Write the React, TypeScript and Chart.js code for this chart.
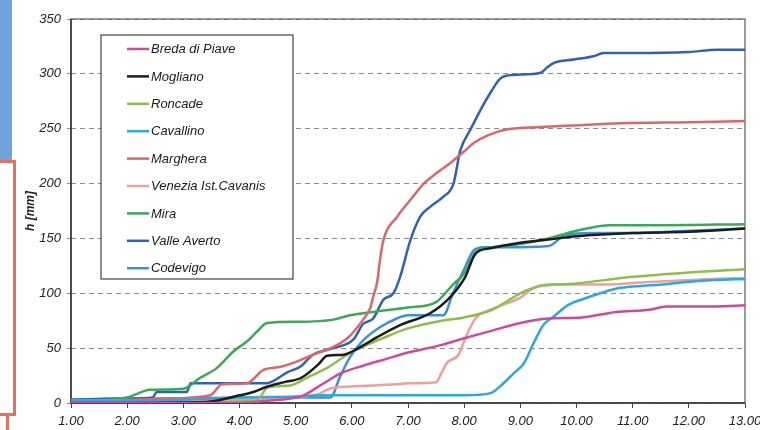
import React, { useEffect, useRef } from "react";
import { Chart, registerables } from "chart.js";

Chart.register(...registerables);

// ---------- data ----------
const seriesNames = [
  "Breda di Piave",
  "Mogliano",
  "Roncade",
  "Cavallino",
  "Marghera",
  "Venezia Ist.Cavanis",
  "Mira",
  "Valle Averto",
  "Codevigo",
];

const seriesColors = [
  "#d2479f",
  "#1c1c1c",
  "#8fbf4a",
  "#2aa9e2",
  "#e0646a",
  "#eea09a",
  "#3aaa55",
  "#2d62b6",
  "#3b90dc",
];

const bredaT = [1, 4.0, 4.5, 4.9, 5.14, 5.5, 5.8, 6.2, 6.6, 7.0, 7.6, 8.0, 8.5, 9.0, 9.5, 10.1, 10.7, 11.3, 11.6, 12.5, 13];
const bredaH = [0, 0, 2, 4, 7, 18, 27, 34, 40, 46, 53, 59, 66, 73, 77, 78, 83, 85, 88, 88, 89];

const moglianoT = [1, 3.4, 4.0, 4.25, 4.5, 4.8, 5.1, 5.4, 5.56, 5.85, 6.15, 6.45, 6.86, 7.4, 7.76, 8.02, 8.2, 8.47, 9.0, 9.5, 10.0, 11.0, 12.0, 13];
const moglianoH = [0, 1, 7, 10, 15, 19, 23, 35, 43, 44, 51, 60, 71, 82, 97, 115, 136, 141, 146, 149, 152, 155, 156, 159];

const roncadeT = [1, 4.3, 4.5, 4.9, 5.2, 5.56, 5.92, 6.27, 6.5, 7.0, 7.6, 8.0, 8.5, 9.0, 9.3, 10.0, 11.0, 12.0, 13];
const roncadeH = [0, 2, 14, 16, 23, 32, 44, 53, 58, 68, 75, 78, 85, 100, 106, 109, 115, 119, 122];

const cavallinoT = [1, 2.0, 3.0, 4.0, 5.0, 5.5, 6.0, 7.0, 8.0, 8.47, 8.7, 8.88, 9.06, 9.24, 9.41, 9.6, 9.84, 10.13, 10.48, 10.78, 11.26, 12.45, 13];
const cavallinoH = [2, 2, 3, 5, 6, 7, 7, 7, 7, 9, 18, 27, 36, 55, 71, 79, 89, 95, 101, 105, 107, 112, 113];

const margheraT = [1, 2.7, 3.48, 3.69, 4.13, 4.42, 4.73, 5.03, 5.31, 5.62, 5.92, 6.2, 6.33, 6.38, 6.45, 6.5, 6.56, 6.81, 7.04, 7.28, 7.52, 7.76, 7.99, 8.17, 8.42, 8.77, 9.36, 9.95, 10.78, 12.0, 13];
const margheraH = [0, 4, 7, 17, 18, 30, 33, 38, 44, 50, 59, 76, 87, 97, 110, 130, 148, 170, 185, 200, 210, 219, 229, 237, 244, 249.5, 251.5, 253, 255, 256, 257];

const veneziaT = [1, 3.0, 4.5, 5.4, 5.6, 5.97, 6.8, 7.0, 7.5, 7.6, 7.7, 7.9, 8.02, 8.2, 8.47, 8.77, 9.0, 9.24, 9.48, 10.07, 10.55, 11.2, 12.4, 13];
const veneziaH = [2, 3, 4, 8, 13, 15, 17, 18, 19, 28, 37, 44, 59, 77, 85, 91, 96, 105, 108, 108, 108, 110, 113, 114];

const miraT = [1, 1.5, 2.0, 2.41, 3.0, 3.3, 3.6, 3.89, 4.13, 4.31, 4.49, 5.08, 5.67, 5.97, 6.38, 7.0, 7.5, 7.8, 8.0, 8.2, 8.5, 9.0, 9.5, 10.0, 10.6, 11.5, 13];
const miraH = [1, 2, 5, 12, 13, 23, 32, 47, 56, 65, 73, 74, 76, 80, 83, 87, 92, 108, 118, 137, 142, 145, 150, 157, 162, 162, 163];

const valleT = [1, 2.0, 2.45, 2.53, 3.06, 3.13, 4.49, 4.6, 4.85, 5.08, 5.31, 5.67, 6.03, 6.2, 6.38, 6.56, 6.74, 6.86, 7.04, 7.22, 7.4, 7.63, 7.81, 7.93, 8.11, 8.29, 8.47, 8.65, 8.88, 9.36, 9.48, 9.6, 9.95, 10.3, 10.48, 11.0, 12.0, 12.5, 13];
const valleH = [3, 4, 5, 10, 10, 18, 18, 20, 28, 33, 44, 50, 58, 72, 77, 94, 100, 115, 148, 170, 179, 188, 200, 230, 249, 267, 283, 296, 299, 301, 306, 310, 313, 316, 319, 319, 320, 322, 322];

const codevigoT = [1, 2.0, 3.0, 4.0, 5.0, 5.62, 5.79, 5.97, 6.2, 6.5, 6.8, 7.0, 7.63, 7.8, 7.99, 8.17, 8.35, 8.5, 9.0, 9.5, 9.8, 10.3, 11.0, 12.0, 13];
const codevigoH = [3, 4, 4, 5, 5, 5, 24, 42, 57, 69, 77, 80, 80, 100, 121, 139, 142, 142, 142, 143, 153, 155, 155, 157, 159];

const seriesTimes = [bredaT, moglianoT, roncadeT, cavallinoT, margheraT, veneziaT, miraT, valleT, codevigoT];
const seriesValues = [bredaH, moglianoH, roncadeH, cavallinoH, margheraH, veneziaH, miraH, valleH, codevigoH];

const xMin = 1;
const xMax = 13;
const xStep = 1;
const yMin = 0;
const yMax = 350;
const yStep = 50;
const yTitle = "h [mm]";

const FONT = "'Liberation Sans', Arial, Helvetica, sans-serif";

// ---------- plugins ----------
const framePlugin = {
  id: "frame",
  beforeDatasetsDraw(chart: any) {
    const { ctx, chartArea } = chart;
    ctx.save();
    ctx.strokeStyle = "#666";
    ctx.lineWidth = 1.3;
    ctx.setLineDash([]);
    ctx.strokeRect(chartArea.left, chartArea.top, chartArea.right - chartArea.left, chartArea.bottom - chartArea.top);
    ctx.strokeStyle = "#333";
    ctx.lineWidth = 1.5;
    ctx.beginPath();
    ctx.moveTo(chartArea.left, chartArea.top);
    ctx.lineTo(chartArea.left, chartArea.bottom);
    ctx.lineTo(chartArea.right, chartArea.bottom);
    ctx.stroke();
    ctx.restore();
  },
};

const boxLegendPlugin = {
  id: "boxLegend",
  afterDatasetsDraw(chart: any) {
    const { ctx, chartArea } = chart;
    const left = chartArea.left + 30;
    const top = chartArea.top + 16;
    const w = 192;
    const h = 244;
    ctx.save();
    ctx.fillStyle = "#ffffff";
    ctx.fillRect(left, top, w, h);
    ctx.strokeStyle = "#444";
    ctx.lineWidth = 1.2;
    ctx.setLineDash([]);
    ctx.strokeRect(left, top, w, h);
    ctx.font = `italic 13px ${FONT}`;
    ctx.textBaseline = "middle";
    ctx.textAlign = "left";
    chart.data.datasets.forEach((ds: any, i: number) => {
      const y = top + 14 + i * 27.4;
      ctx.strokeStyle = ds.borderColor;
      ctx.lineWidth = 2.5;
      ctx.beginPath();
      ctx.moveTo(left + 26, y);
      ctx.lineTo(left + 48, y);
      ctx.stroke();
      ctx.fillStyle = "#1a1a1a";
      ctx.fillText(ds.label, left + 50, y + 0.5);
    });
    ctx.restore();
  },
};

export default function App() {
  const canvasRef = useRef<HTMLCanvasElement | null>(null);

  useEffect(() => {
    if (!canvasRef.current) return;
    const datasets = seriesNames.map((name, i) => ({
      label: name,
      data: seriesTimes[i].map((t, j) => ({ x: t, y: seriesValues[i][j] })),
      borderColor: seriesColors[i],
      backgroundColor: seriesColors[i],
      borderWidth: 2.5,
      pointRadius: 0,
      cubicInterpolationMode: "monotone" as const,
      fill: false,
    }));

    const chart = new Chart(canvasRef.current, {
      type: "line",
      data: { datasets },
      options: {
        animation: false,
        responsive: false,
        maintainAspectRatio: false,
        layout: { padding: { top: 19, right: 15, left: 0, bottom: 0 } },
        plugins: {
          legend: { display: false },
          tooltip: { enabled: false },
        },
        scales: {
          x: {
            type: "linear",
            min: xMin,
            max: xMax,
            ticks: {
              stepSize: xStep,
              autoSkip: false,
              maxRotation: 0,
              padding: 6,
              color: "#222",
              font: { family: FONT, size: 13, style: "italic" },
              callback: (v: any) => Number(v).toFixed(2),
            },
            grid: {
              display: true,
              drawOnChartArea: false,
              drawTicks: true,
              tickLength: 5,
              color: "#444",
            },
            border: { display: false },
            afterFit: (s: any) => {
              s.height = 27;
              s.paddingLeft = 0;
              s.paddingRight = 0;
            },
          } as any,
          y: {
            type: "linear",
            min: yMin,
            max: yMax,
            ticks: {
              stepSize: yStep,
              padding: 6,
              color: "#222",
              font: { family: FONT, size: 13, style: "italic" },
            },
            grid: {
              color: "#8a8a8a",
              lineWidth: 1,
              tickLength: 4,
            },
            border: { display: false, dash: [5, 4] },
            title: {
              display: true,
              text: yTitle,
              color: "#222",
              font: { family: FONT, size: 12, style: "italic", weight: "bold" },
              padding: { top: 23, bottom: 0 },
            },
            afterFit: (s: any) => {
              s.width = 71;
            },
          } as any,
        },
      },
      plugins: [framePlugin, boxLegendPlugin],
    });
    return () => chart.destroy();
  }, []);

  return (
    <div style={{ position: "fixed", left: 0, top: 0, width: 760, height: 430, background: "#fff", overflow: "hidden" }}>
      <div style={{ position: "absolute", left: 0, top: 0, width: 12, height: 160, background: "#6fa3dc" }} />
      <div style={{ position: "absolute", left: -4, top: 160, width: 14, height: 250, border: "3px solid #e8705a" }} />
      <div style={{ position: "absolute", left: 6, top: 413, width: 3, height: 17, background: "#e8705a" }} />
      <canvas ref={canvasRef} width={760} height={430} style={{ position: "absolute", left: 0, top: 0 }} />
    </div>
  );
}
